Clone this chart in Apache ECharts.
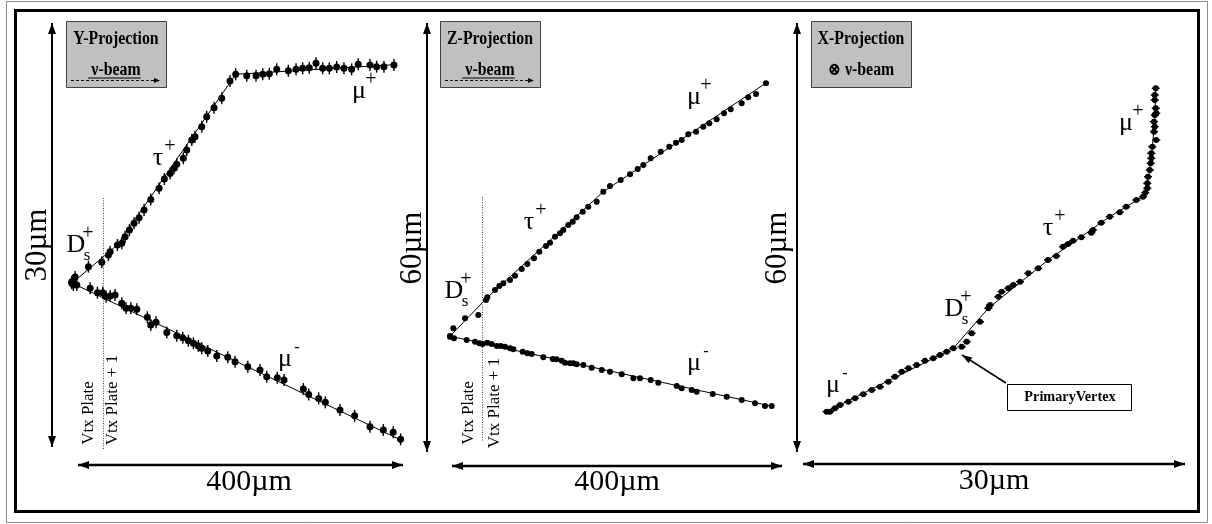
<!DOCTYPE html>
<html>
<head>
<meta charset="utf-8">
<script src="https://cdn.jsdelivr.net/npm/echarts@6/dist/echarts.min.js"></script>
<style>html,body{margin:0;padding:0;background:#fff}#container{width:1212px;height:524px}</style>
</head>
<body>
<div id="container"></div>
<script>
// hit positions in micrometres, read off the event display
// Y projection
var yDsTauHits = [[-7.8,11.69],[-3.7,12.03],[-5.8,11.46],[12.7,12.76],[29.2,13.07],[37.3,13.58],[39.4,13.82],[48.4,14.29],[53.8,14.41],[57.9,14.88],[63.2,15.35],[68.9,15.83],[75.1,16.22],[81.2,16.77],[89.5,17.52],[99.7,18.30],[106.2,18.96],[113.3,19.36],[118.2,19.72],[121.5,20.00],[129.6,20.43],[133.8,21.01],[140.0,21.72],[144.0,21.95],[152.3,22.66],[158.4,23.37],[167.4,24.01],[176.9,24.67],[187.1,25.89],[194.1,26.37]];
var yMuPlusHits = [[207.7,26.27],[219.1,26.27],[227.4,26.37],[235.5,26.41],[244.6,26.72],[258.9,26.62],[268.4,26.72],[276.6,26.79],[284.7,26.84],[293.0,27.15],[301.2,26.79],[309.4,26.79],[318.5,26.88],[327.4,26.79],[336.9,26.72],[345.0,27.08],[359.5,27.03],[367.7,26.91],[376.7,26.91],[389.0,27.03]];
var yMuMinusHits = [[-7.8,11.58],[-1.6,11.46],[14.8,11.23],[23.8,10.92],[30.4,10.92],[34.5,10.63],[39.4,10.68],[45.5,10.75],[53.8,10.17],[59.1,9.81],[64.9,9.81],[72.3,9.74],[85.3,9.18],[89.5,8.63],[96.0,8.82],[109.2,8.11],[121.5,7.87],[128.9,7.73],[135.8,7.52],[142.0,7.34],[148.1,7.15],[152.3,6.98],[159.7,6.79],[170.8,6.44],[184.3,6.35],[193.3,6.04],[209.0,5.68],[224.0,5.45],[232.3,4.97],[245.3,4.90],[253.6,4.74],[277.4,4.10],[284.0,3.72],[296.3,3.44],[304.5,3.16],[322.5,2.62],[340.6,2.21],[359.5,1.44],[375.9,1.20],[388.1,1.04],[397.2,0.54]];
var yFitPos = [[-7.4,11.6],[48.4,14.3],[194.1,26.37],[389.0,27.05]];
var yFitNeg = [[-7.4,11.6],[397.2,0.5]];

// Z projection
var zPosHits = [[-2.4,16.13],[1.6,17.30],[15.8,18.70],[31.9,19.16],[41.2,21.26],[42.8,21.64],[52.1,22.66],[57.3,23.22],[62.2,23.59],[70.3,24.06],[76.4,24.66],[84.5,25.59],[91.3,26.29],[99.4,27.09],[105.8,28.01],[113.9,28.81],[118.8,29.27],[124.8,30.11],[130.9,30.59],[134.9,31.05],[141.0,31.75],[146.3,32.21],[151.1,32.82],[158.4,33.61],[165.2,34.31],[175.4,35.01],[183.4,36.41],[191.5,37.20],[204.5,38.04],[215.8,38.84],[225.1,39.58],[231.9,40.14],[240.8,41.08],[253.0,42.00],[263.4,42.70],[271.5,43.26],[278.4,43.64],[286.4,44.43],[295.8,44.80],[304.6,45.50],[311.9,45.97],[320.8,46.53],[329.7,47.37],[337.8,47.93],[351.1,48.77],[359.1,49.61],[368.5,50.07],[380.6,51.57]];
var zMuMinusHits = [[-2.4,16.22],[2.4,15.90],[17.8,15.66],[27.9,15.43],[33.1,15.20],[37.2,15.10],[42.8,15.29],[48.1,15.10],[54.2,14.83],[59.0,14.83],[64.2,14.73],[70.3,14.50],[74.3,14.36],[85.7,14.03],[91.3,13.80],[96.6,13.71],[110.7,13.24],[122.1,13.01],[126.9,12.97],[133.0,12.77],[137.0,12.49],[143.0,12.40],[147.0,12.40],[151.1,12.26],[159.2,12.17],[169.3,11.79],[181.5,11.47],[191.5,11.23],[205.7,10.87],[219.8,10.31],[227.9,10.31],[240.8,10.07],[250.1,9.69],[272.4,9.23],[278.4,8.91],[290.5,8.67],[296.6,8.43],[316.0,8.11],[333.0,7.73],[351.1,7.27],[367.3,6.81],[379.4,6.43],[387.5,6.43]];
var zFitPos = [[-2.4,16.2],[42.8,21.6],[183.4,36.4],[380.6,51.6]];
var zFitNeg = [[-2.4,16.2],[387.5,6.4]];

// X projection
var xMuPlusHits = [[27.71,50.87],[27.63,49.93],[27.63,49.22],[27.71,48.07],[27.63,47.13],[27.75,47.37],[27.57,46.20],[27.63,45.50],[27.57,44.80],[27.75,43.64],[27.44,42.70],[27.36,41.78],[27.36,41.08],[27.31,40.38],[27.24,39.44],[27.10,38.50],[27.05,37.58],[27.05,36.88],[26.89,36.27],[26.71,35.71]];
var xTauHits = [[26.19,35.24],[25.40,34.31],[24.89,33.52],[24.10,32.91],[23.44,32.07],[22.79,31.05],[22.66,30.67],[21.88,30.03],[21.23,29.55],[20.84,29.09],[20.44,28.71],[19.92,27.41],[19.27,26.85],[18.51,25.69],[17.73,24.99],[17.08,23.82],[16.55,23.36],[16.16,22.89],[15.64,22.42],[15.38,21.72],[14.73,20.56],[14.59,20.10]];
var xDsHits = [[13.94,18.22],[13.29,16.60],[12.90,15.43],[12.51,14.73],[11.85,14.50]];
var xMuMinusHits = [[11.33,14.03],[10.81,13.57],[10.28,13.10],[9.63,12.77],[8.98,12.17],[8.33,11.71],[7.81,11.24],[7.28,10.53],[6.76,9.83],[6.11,9.13],[5.46,8.67],[4.80,8.07],[4.15,7.51],[3.63,7.03],[2.98,6.57],[2.58,6.11],[2.19,5.64],[1.93,5.64]];
var xFit = [[1.93,5.64],[11.85,14.5],[14.59,20.1],[19.27,26.85],[24.1,32.91],[26.71,35.71],[27.05,37.58],[27.36,41.08],[27.63,46.2],[27.71,50.87]];

var SERIF = '"Liberation Serif", "DejaVu Serif", serif';

function fitLine(gi, data) {
    return { type: 'line', xAxisIndex: gi, yAxisIndex: gi, data: data, symbol: 'none', clip: false, silent: true, z: 2,
        lineStyle: { color: '#000', width: 1 } };
}
function hits(gi, data, symbol, size) {
    return { type: 'scatter', xAxisIndex: gi, yAxisIndex: gi, data: data, symbol: symbol, symbolSize: size,
        clip: false, silent: true, z: 3, itemStyle: { color: '#000', opacity: 1 } };
}

// little helpers for the drawn decorations
function head(x, y, dx, dy, len, w) {
    return { type: 'polygon', silent: true, shape: { points: [[x, y],
        [x - dx * len - dy * w / 2, y - dy * len + dx * w / 2],
        [x - dx * len + dy * w / 2, y - dy * len - dx * w / 2]] }, style: { fill: '#000' } };
}
function arrow(x1, y1, x2, y2, both, lw, len, w) {
    var L = Math.sqrt((x2 - x1) * (x2 - x1) + (y2 - y1) * (y2 - y1));
    var dx = (x2 - x1) / L, dy = (y2 - y1) / L;
    var out = [{ type: 'line', silent: true, shape: { x1: x1, y1: y1, x2: x2, y2: y2 }, style: { stroke: '#000', lineWidth: lw } }];
    out.push(head(x2, y2, dx, dy, len, w));
    if (both) out.push(head(x1, y1, -dx, -dy, len, w));
    return out;
}
function txt(x, y, s, size, opts) {
    opts = opts || {};
    return { type: 'text', x: x, y: y, rotation: opts.rot || 0, scaleX: opts.sx || 1, silent: true, z: 10,
        style: { text: s, font: (opts.bold ? 'bold ' : '') + size + 'px ' + SERIF, fill: '#000',
            align: opts.align || 'center', verticalAlign: 'middle' } };
}
function particle(x, y, main, sup, sub) {
    var out = [txt(x, y, main, 26)];
    if (sup) out.push(txt(x + 12, y - 11, sup, sup === '-' ? 16 : 20));
    if (sub) out.push(txt(x + 11, y + 11, sub, 17));
    return out;
}
function beamBox(x, y, title, beam, dashed) {
    var out = [{ type: 'rect', silent: true, shape: { x: x + 0.5, y: y + 0.5, width: 100, height: 66 },
        style: { fill: '#c0c0c0', stroke: '#404040', lineWidth: 1 } }];
    out.push(txt(x + 50, y + 18, title, 18, { bold: true, sx: 0.88 }));
    out.push(txt(x + 50, y + 49, beam, 18, { bold: true, sx: 0.88 }));
    if (dashed) {
        out.push({ type: 'line', silent: true, shape: { x1: x + 22, y1: y + 57, x2: x + 75, y2: y + 57 }, style: { stroke: '#000', lineWidth: 1 } });
        out.push({ type: 'line', silent: true, shape: { x1: x + 5, y1: y + 59.5, x2: x + 90, y2: y + 59.5 },
            style: { stroke: '#000', lineWidth: 1, lineDash: [3, 2] } });
        out.push(head(x + 94, y + 59.5, 1, 0, 6, 5));
    }
    return out;
}

var graphics = [];
function add(arr) { graphics = graphics.concat(arr); }

// frames
add([{ type: 'rect', silent: true, shape: { x: 6.5, y: 1.5, width: 1201, height: 521 }, style: { fill: 'none', stroke: '#8c8c8c', lineWidth: 1 } },
     { type: 'rect', silent: true, shape: { x: 15.5, y: 10.5, width: 1183, height: 501 }, style: { fill: 'none', stroke: '#000', lineWidth: 3 } }]);

// dimension arrows
add(arrow(52, 23, 52, 447, true, 2, 11, 8));
add(arrow(78, 465, 403, 465, true, 2.5, 11, 8));
add(arrow(427, 23, 427, 452, true, 2, 11, 8));
add(arrow(452, 466, 782, 466, true, 2.5, 11, 8));
add(arrow(797, 23, 797, 452, true, 2, 11, 8));
add(arrow(803, 464, 1185, 464, true, 2.5, 11, 8));

add([txt(38, 245, '30µm', 31, { rot: Math.PI / 2 }), txt(413, 248, '60µm', 31, { rot: Math.PI / 2 }),
     txt(778, 248, '60µm', 31, { rot: Math.PI / 2 }),
     txt(249, 482, '400µm', 30), txt(617, 482, '400µm', 30), txt(994, 481, '30µm', 30)]);

// plate boundaries
add([{ type: 'line', silent: true, shape: { x1: 103.5, y1: 198, x2: 103.5, y2: 450 }, style: { stroke: '#444', lineWidth: 1, lineDash: [1, 1.5] } },
     { type: 'line', silent: true, shape: { x1: 482.5, y1: 197, x2: 482.5, y2: 442 }, style: { stroke: '#444', lineWidth: 1, lineDash: [1, 1.5] } },
     txt(89, 413, 'Vtx Plate', 17, { rot: Math.PI / 2 }), txt(113, 400, 'Vtx Plate + 1', 17, { rot: Math.PI / 2 }),
     txt(469, 413, 'Vtx Plate', 17, { rot: Math.PI / 2 }), txt(495, 403, 'Vtx Plate + 1', 17, { rot: Math.PI / 2 })]);

// legend boxes
add(beamBox(66, 21, 'Y-Projection', 'ν-beam', true));
add(beamBox(440, 21, 'Z-Projection', 'ν-beam', true));
add(beamBox(811, 21, 'X-Projection', '⊗ ν-beam', false));

// particle names
add(particle(359, 91, 'μ', '+'));
add(particle(158, 158, 'τ', '+'));
add(particle(76, 245, 'D', '+', 's'));
add(particle(285, 359, 'μ', '-'));
add(particle(694, 97, 'μ', '+'));
add(particle(529, 222, 'τ', '+'));
add(particle(454, 291, 'D', '+', 's'));
add(particle(694, 363, 'μ', '-'));
add(particle(1126, 123, 'μ', '+'));
add(particle(1048, 228, 'τ', '+'));
add(particle(954, 309, 'D', '+', 's'));
add(particle(833, 385, 'μ', '-'));

// primary vertex tag
add([{ type: 'rect', silent: true, shape: { x: 1007.5, y: 384.5, width: 124, height: 26 }, style: { fill: '#fff', stroke: '#000', lineWidth: 1 } },
     txt(1070, 397.5, 'PrimaryVertex', 15, { bold: true, sx: 0.95 })]);
add(arrow(1006, 383, 962, 355, false, 1.5, 10, 7));

var myChart = echarts.init(document.getElementById('container'));
var option = {
    backgroundColor: '#fff',
    animation: false,
    grid: [
        { left: 70, top: 23, width: 341, height: 424 },
        { left: 452, top: 23, width: 330, height: 429 },
        { left: 802, top: 23, width: 383, height: 429 }
    ],
    xAxis: [
        { gridIndex: 0, type: 'value', min: -10, max: 410, show: false },
        { gridIndex: 1, type: 'value', min: 0, max: 400, show: false },
        { gridIndex: 2, type: 'value', min: 0, max: 30, show: false }
    ],
    yAxis: [
        { gridIndex: 0, type: 'value', min: 0, max: 30, show: false },
        { gridIndex: 1, type: 'value', min: 0, max: 60, show: false },
        { gridIndex: 2, type: 'value', min: 0, max: 60, show: false }
    ],
    series: [
        fitLine(0, yFitPos), fitLine(0, yFitNeg),
        hits(0, yDsTauHits, 'rect', [1.4, 12]), hits(0, yDsTauHits, 'circle', 7),
        hits(0, yMuPlusHits, 'rect', [1.4, 12]), hits(0, yMuPlusHits, 'circle', 7),
        hits(0, yMuMinusHits, 'rect', [1.4, 12]), hits(0, yMuMinusHits, 'circle', 7),

        fitLine(1, zFitPos), fitLine(1, zFitNeg),
        hits(1, zPosHits, 'circle', 6), hits(1, zMuMinusHits, 'circle', 6),

        fitLine(2, xFit),
        hits(2, xMuPlusHits, 'rect', [8, 1.5]), hits(2, xMuPlusHits, 'circle', 6),
        hits(2, xTauHits, 'rect', [8, 1.5]), hits(2, xTauHits, 'circle', 6),
        hits(2, xDsHits, 'rect', [8, 1.5]), hits(2, xDsHits, 'circle', 6),
        hits(2, xMuMinusHits, 'rect', [8, 1.5]), hits(2, xMuMinusHits, 'circle', 6)
    ],
    graphic: graphics
};
myChart.setOption(option);
</script>
</body>
</html>
